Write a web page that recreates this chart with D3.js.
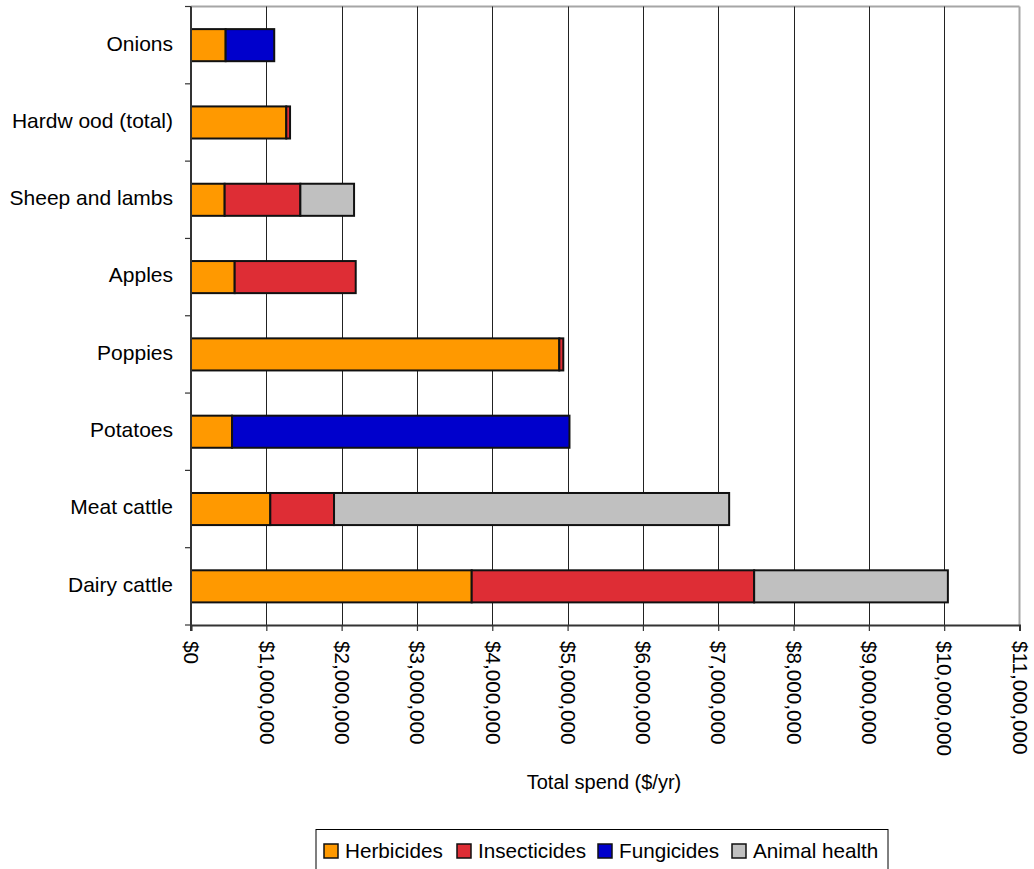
<!DOCTYPE html>
<html>
<head>
<meta charset="utf-8">
<script src="https://cdn.jsdelivr.net/npm/d3@7"></script>
<style>
  html, body { margin: 0; padding: 0; background: #fff; }
  svg { display: block; font-family: "Liberation Sans", Arial, sans-serif; }
</style>
</head>
<body>
<svg id="chart" width="1034" height="869"></svg>
<script>
// Annual pesticide / animal-health spend by enterprise ($/yr)
const categories = ["Onions", "Hardw ood (total)", "Sheep and lambs", "Apples", "Poppies", "Potatoes", "Meat cattle ", "Dairy cattle"];
const seriesNames = ["Herbicides", "Insecticides", "Fungicides", "Animal health"];
const herbicides   = [460000, 1265000, 447000, 580000, 4890000, 545000, 1053000, 3727000];
const insecticides = [0, 50000, 1005000, 1607000, 53000, 0, 846000, 3750000];
const fungicides   = [645000, 0, 0, 0, 0, 4480000, 0, 0];
const animalHealth = [0, 0, 713000, 0, 0, 0, 5246000, 2572000];
const xTickValues = [0, 1e6, 2e6, 3e6, 4e6, 5e6, 6e6, 7e6, 8e6, 9e6, 10e6, 11e6];
const axisTitle = "Total spend ($/yr)";

const FONT = '"Liberation Sans", Arial, sans-serif';

const colors = {
  "Herbicides": "#FF9900",
  "Insecticides": "#DE2D35",
  "Fungicides": "#0000CC",
  "Animal health": "#C0C0C0"
};

const rows = categories.map((c, i) => ({
  category: c,
  "Herbicides": herbicides[i],
  "Insecticides": insecticides[i],
  "Fungicides": fungicides[i],
  "Animal health": animalHealth[i]
}));

const svg = d3.select("#chart");
const plot = { left: 191, right: 1019.5, top: 6.5, bottom: 625 };

const x = d3.scaleLinear().domain([0, 11e6]).range([plot.left, plot.right]);
const pad = 0.585;
const y = d3.scaleBand().domain(categories).range([plot.top, plot.bottom])
  .paddingInner(pad).paddingOuter(pad / 2);

// plot frame (top and right edges)
svg.append("line").attr("x1", plot.left).attr("x2", plot.right)
  .attr("y1", plot.top).attr("y2", plot.top)
  .attr("stroke", "#a6a6a6").attr("stroke-width", 2);
svg.append("line").attr("x1", plot.right).attr("x2", plot.right)
  .attr("y1", plot.top).attr("y2", plot.bottom)
  .attr("stroke", "#a6a6a6").attr("stroke-width", 2);

// vertical gridlines
svg.append("g").selectAll("line")
  .data(xTickValues.slice(1, -1))
  .join("line")
  .attr("x1", d => Math.round(x(d)) + 0.5).attr("x2", d => Math.round(x(d)) + 0.5)
  .attr("y1", plot.top).attr("y2", plot.bottom)
  .attr("stroke", "#222").attr("stroke-width", 1);

// stacked bars
const stack = d3.stack().keys(seriesNames);
const layers = stack(rows);
svg.append("g").selectAll("g")
  .data(layers)
  .join("g")
  .attr("fill", d => colors[d.key])
  .selectAll("rect")
  .data(d => d.filter(s => s[1] - s[0] > 0))
  .join("rect")
  .attr("x", d => x(d[0]))
  .attr("y", d => y(d.data.category))
  .attr("width", d => x(d[1]) - x(d[0]))
  .attr("height", y.bandwidth())
  .attr("stroke", "#111")
  .attr("stroke-width", 2);

// x axis
const xAxis = d3.axisBottom(x).tickValues(xTickValues).tickSize(6)
  .tickFormat(d => "$" + d3.format(",")(d));
const gx = svg.append("g").attr("transform", `translate(0,${plot.bottom})`).call(xAxis);
gx.attr("font-family", FONT);
gx.select(".domain").attr("stroke", "#333").attr("stroke-width", 2);
gx.selectAll(".tick line").attr("stroke", "#333").attr("stroke-width", 1.2);
gx.selectAll(".tick text")
  .attr("font-size", 20.7)
  .attr("font-family", FONT)
  .attr("fill", "#000")
  .attr("text-anchor", "start")
  .attr("transform", "rotate(90)")
  .attr("x", 16)
  .attr("y", 0)
  .attr("dy", "0.35em");

// y axis: category labels at band centres, tick marks at band boundaries
const gy = svg.append("g");
gy.append("line").attr("x1", plot.left).attr("x2", plot.left)
  .attr("y1", plot.top).attr("y2", plot.bottom + 6)
  .attr("stroke", "#333").attr("stroke-width", 2);
const step = y.step();
gy.selectAll("line.tick")
  .data(d3.range(categories.length + 1))
  .join("line")
  .attr("class", "tick")
  .attr("x1", plot.left - 6).attr("x2", plot.left)
  .attr("y1", i => plot.top + i * step).attr("y2", i => plot.top + i * step)
  .attr("stroke", "#333").attr("stroke-width", 1.2);
gy.selectAll("text")
  .data(categories)
  .join("text")
  .attr("x", 173)
  .attr("y", d => y(d) + y.bandwidth() / 2 - 2)
  .attr("dy", "0.35em")
  .attr("text-anchor", "end")
  .attr("font-size", 21)
  .attr("fill", "#000")
  .text(d => d);

// axis title
svg.append("text")
  .attr("x", 604).attr("y", 782).attr("dy", "0.35em")
  .attr("text-anchor", "middle")
  .attr("font-size", 20)
  .attr("fill", "#000")
  .text(axisTitle);

// legend
const legend = svg.append("g");
legend.append("rect")
  .attr("x", 316).attr("y", 829.5).attr("width", 572).attr("height", 50)
  .attr("fill", "#fff").attr("stroke", "#000").attr("stroke-width", 1);
const legendX = [324, 457, 598, 732];
const items = legend.selectAll("g.item")
  .data(seriesNames)
  .join("g")
  .attr("class", "item")
  .attr("transform", (d, i) => `translate(${legendX[i]},844)`);
items.append("rect")
  .attr("width", 14).attr("height", 14)
  .attr("fill", d => colors[d])
  .attr("stroke", "#111").attr("stroke-width", 1.5);
items.append("text")
  .attr("x", 21).attr("y", 6.5).attr("dy", "0.35em")
  .attr("font-size", 20.7)
  .attr("fill", "#000")
  .text(d => d);
</script>
</body>
</html>
